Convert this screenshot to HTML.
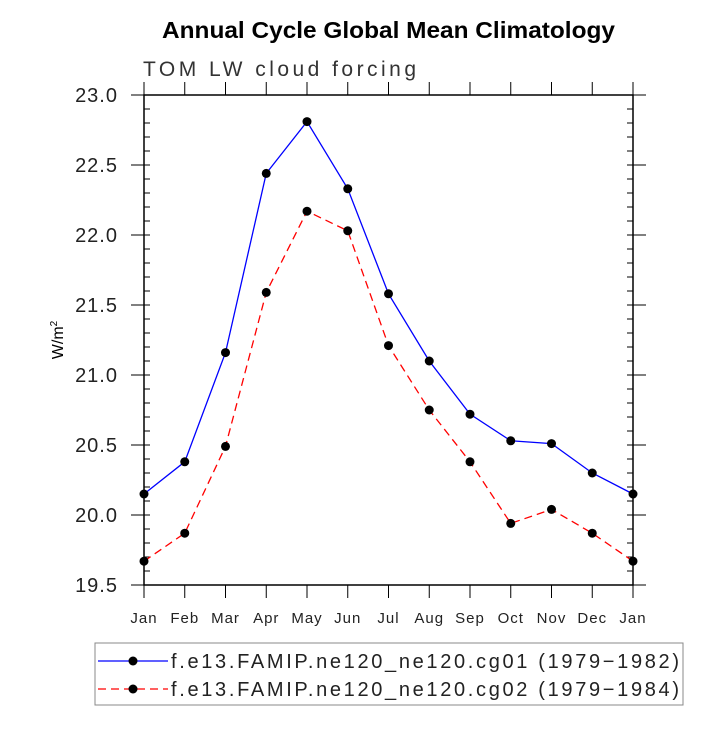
<!DOCTYPE html>
<html><head><meta charset="utf-8"><style>
body{margin:0;background:#fff;}
svg text{font-family:"Liberation Sans",sans-serif;}
</style></head><body>
<svg id="c" width="727" height="727" xmlns="http://www.w3.org/2000/svg">
<text x="162" y="38" font-size="23" font-weight="bold" textLength="453" lengthAdjust="spacingAndGlyphs">Annual Cycle Global Mean Climatology</text>
<text x="143" y="76" font-size="21" fill="#333" textLength="273">TOM LW cloud forcing</text>
<text transform="translate(63,340) rotate(-90)" font-size="16" text-anchor="middle">W/m<tspan font-size="10" dy="-6">2</tspan></text>
<g id="axes"></g><g id="series"></g>
<rect x="95" y="643" width="588" height="62" fill="none" stroke="#888" stroke-width="1"/>
<g>
<line x1="98" y1="661" x2="168" y2="661" stroke="#00f" stroke-width="1.3"/><circle cx="133" cy="661" r="4.5"/>
<text x="171" y="668" font-size="20" fill="#222" textLength="508">f.e13.FAMIP.ne120_ne120.cg01 (1979−1982)</text></g>
<g>
<line x1="98" y1="689" x2="168" y2="689" stroke="#f00" stroke-width="1.3" stroke-dasharray="8,5"/><circle cx="133" cy="689" r="4.5"/>
<text x="171" y="696" font-size="20" fill="#222" textLength="508">f.e13.FAMIP.ne120_ne120.cg02 (1979−1984)</text></g>
</svg>
<script>
const months=["Jan","Feb","Mar","Apr","May","Jun","Jul","Aug","Sep","Oct","Nov","Dec","Jan"];
const cg01=[20.15,20.38,21.16,22.44,22.81,22.33,21.58,21.10,20.72,20.53,20.51,20.30,20.15];
const cg02=[19.67,19.87,20.49,21.59,22.17,22.03,21.21,20.75,20.38,19.94,20.04,19.87,19.67];
const yTicks=["19.5","20.0","20.5","21.0","21.5","22.0","22.5","23.0"];
const L=144,R=633,T=95,B=585,ymin=19.5,ymax=23.0;
const xs=i=>L+(R-L)*i/(months.length-1);
const ys=v=>B-(B-T)*(v-ymin)/(ymax-ymin);
const NS="http://www.w3.org/2000/svg";
function mk(t,a,p){const e=document.createElementNS(NS,t);for(const k in a)e.setAttribute(k,a[k]);p.appendChild(e);return e;}
const ax=document.getElementById('axes');
const fr=mk('rect',{x:L,y:T,width:R-L,height:B-T,fill:'none',stroke:'#000','stroke-width':1.5},ax);


months.forEach((m,i)=>{const x=xs(i);
mk('line',{x1:x,y1:B,x2:x,y2:B+13,stroke:'#000'},ax);
mk('line',{x1:x,y1:T,x2:x,y2:T-13,stroke:'#000'},ax);
const t=mk('text',{x:x,y:B+38,'font-size':15,'text-anchor':'middle',fill:'#222','letter-spacing':1},ax);t.textContent=m;

});
yTicks.forEach(s=>{const y=ys(parseFloat(s));
mk('line',{x1:L,y1:y,x2:L-13,y2:y,stroke:'#000'},ax);
mk('line',{x1:R,y1:y,x2:R+13,y2:y,stroke:'#000'},ax);
const t=mk('text',{x:118,y:y+7,'font-size':20,'text-anchor':'end',fill:'#222','letter-spacing':1},ax);t.textContent=s;

});
for(let v=ymin;v<=ymax+1e-6;v+=0.1){const y=ys(v);
mk('line',{x1:L,y1:y,x2:L+6,y2:y,stroke:'#000'},ax);
mk('line',{x1:R,y1:y,x2:R-6,y2:y,stroke:'#000'},ax);}
const sg=document.getElementById('series');
function draw(d,col,dash,name){
const g=mk('g',{},sg);


mk('polyline',{points:d.map((v,i)=>xs(i)+','+ys(v)).join(' '),fill:'none',stroke:col,'stroke-width':1.3,'stroke-dasharray':dash},g);
d.forEach((v,i)=>{const c=mk('circle',{cx:xs(i),cy:ys(v),r:4.5,fill:'#000'},g);

});}
draw(cg01,'#00f','none','series-cg01');
draw(cg02,'#f00','8,5','series-cg02');
</script>
</body></html>
